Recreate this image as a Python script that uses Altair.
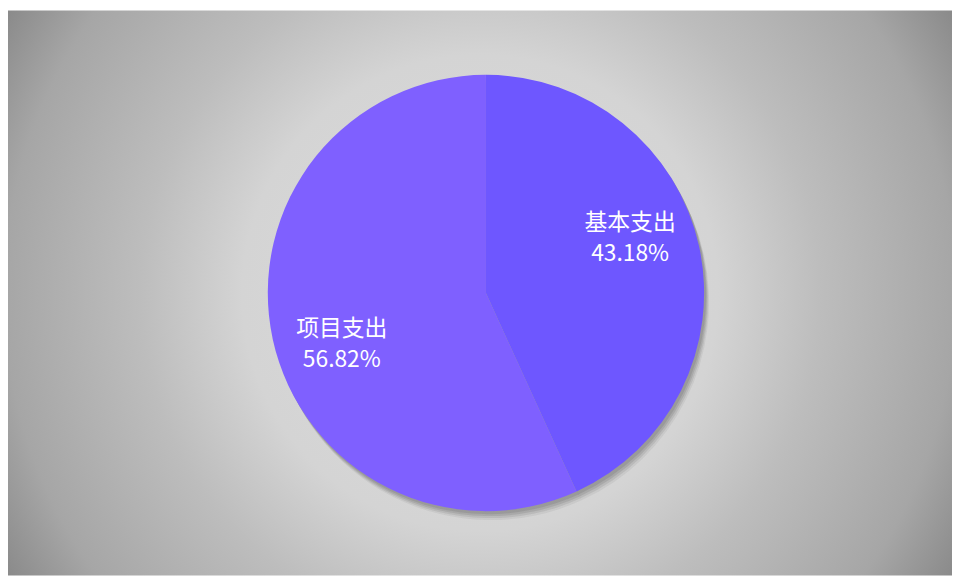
import altair as alt
import pandas as pd
import math

categories = ["基本支出", "项目支出"]
values = [43.18, 56.82]
colors = ["#6e57ff", "#7f60ff"]

df = pd.DataFrame({"category": categories, "value": values, "idx": list(range(len(categories)))})

W, H = 952, 570
R = 220
DX = 6

bg = alt.Chart(df).mark_rect(
    color=alt.RadialGradient(
        gradient="radial",
        x1=0.5, y1=0.5, r1=0,
        x2=0.5, y2=0.5, r2=0.6,
        stops=[
            alt.GradientStop(offset=0, color="#dcdcdc"),
            alt.GradientStop(offset=0.42, color="#d4d4d4"),
            alt.GradientStop(offset=0.6, color="#bdbdbd"),
            alt.GradientStop(offset=0.84, color="#a6a6a6"),
            alt.GradientStop(offset=1, color="#848484"),
        ],
    )
).encode(
    x=alt.value(0), x2=alt.value("width"), y=alt.value(0), y2=alt.value("height")
).transform_filter("datum.idx == 0")

def shadow(dx, dy, op):
    return alt.Chart(df).mark_arc(radius=R, color="#333333", opacity=op, xOffset=DX + dx, yOffset=dy).encode(
        theta=alt.Theta("value:Q", stack=True),
        order=alt.Order("idx:Q"),
    )

pie = alt.Chart(df).mark_arc(radius=R, xOffset=DX).encode(
    theta=alt.Theta("value:Q", stack=True),
    order=alt.Order("idx:Q"),
    color=alt.Color("category:N", scale=alt.Scale(domain=categories, range=colors), legend=None),
)

labels = alt.Chart(df).transform_calculate(
    label="datum.category + '\\n' + format(datum.value, '.2f') + '%'"
).mark_text(
    radius=155, fontSize=23, font="Noto Sans CJK SC", color="white",
    lineBreak="\n", lineHeight=31, align="center", baseline="middle",
    xOffset=DX, dy=-17,
).encode(
    theta=alt.Theta("value:Q", stack=True, scale=alt.Scale(range=[-0.14, 2 * math.pi - 0.14])),
    order=alt.Order("idx:Q"),
    text="label:N",
)

chart = alt.layer(
    bg, shadow(2, 3, 0.12), shadow(3, 5, 0.12), shadow(4, 7, 0.1), shadow(5, 9, 0.07), pie, labels
).resolve_scale(theta="independent").properties(
    width=W, height=H, padding=0, autosize="none"
).configure_view(stroke=None)

chart.save("out.html", embed_options={"renderer": "svg", "actions": False})
